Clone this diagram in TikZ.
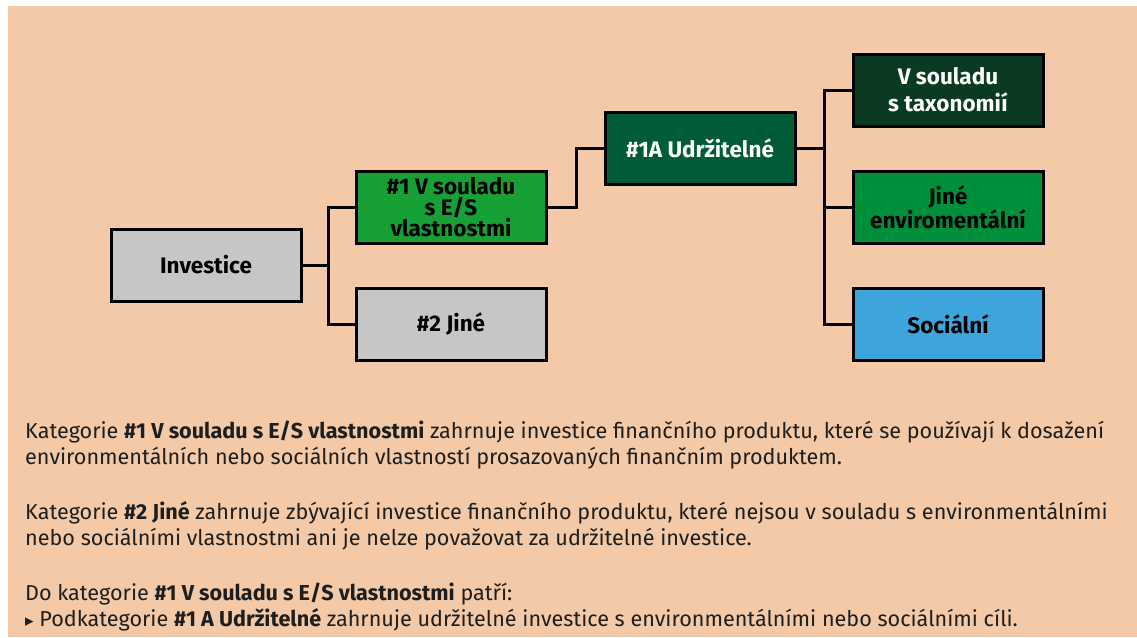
\documentclass[tikz,border=0pt]{standalone}
\usepackage{fontspec}
\setmainfont{Fira Sans}
\newfontfamily\symfont{DejaVu Sans}

\definecolor{peach}{RGB}{243,201,167}
\definecolor{boxgray}{RGB}{198,198,198}
\definecolor{esgreen}{RGB}{23,160,53}
\definecolor{udrgreen}{RGB}{0,92,56}
\definecolor{taxgreen}{RGB}{11,58,34}
\definecolor{envgreen}{RGB}{0,143,58}
\definecolor{socblue}{RGB}{61,165,220}
\definecolor{bodytext}{RGB}{30,30,30}

\tikzset{
  catbox/.style={draw=black, line width=3pt, minimum width=190pt, minimum height=72pt,
    inner sep=0pt, align=center, font=\bfseries\fontsize{22.5}{21}\selectfont},
  link/.style={line width=3pt},
  bodyline/.style={anchor=base west, inner sep=0pt, text=bodytext,
    font=\fontsize{21.6}{26}\selectfont}
}

\begin{document}
\begin{tikzpicture}[x=1pt,y=-1pt]
\useasboundingbox (0,0) rectangle (1137,637);
\fill[peach] (8,6) rectangle (1137,637);

% the boxes
\node[catbox, fill=boxgray] (inv) at (206,265) {Investice};
\node[catbox, fill=esgreen] (es) at (451,207) {\#1 V souladu\\s E/S\\vlastnostmi};
\node[catbox, fill=boxgray] (other) at (451,324) {\#2 Jiné};
\node[catbox, fill=udrgreen, text=white] (udr) at (700,148) {\#1A Udržitelné};
\node[catbox, fill=taxgreen, text=white] (tax) at (948,90) {V souladu\\[6pt]s taxonomií};
\node[catbox, fill=envgreen] (env) at (948,207) {Jiné\\enviromentální};
\node[catbox, fill=socblue] (soc) at (948,324) {Sociální};

% connectors
\coordinate (j1) at (328,265);
\coordinate (j3) at (824,148);
\draw[link] (inv.east) -- (j1) |- (es.west);
\draw[link] (j1) |- (other.west);
\draw[link] (es.east) -- ++(29,0) |- (udr.west);
\draw[link] (udr.east) -- (j3) |- (tax.west);
\draw[link] (j3) |- (env.west);
\draw[link] (j3) |- (soc.west);

% text below
\node[bodyline] (t1) at (25,438) {Kategorie \textbf{\#1 V souladu s E/S vlastnostmi} zahrnuje investice finančního produktu, které se používají k dosažení};
\node[bodyline] (t2) at (25,464) {environmentálních nebo sociálních vlastností prosazovaných finančním produktem.};
\node[bodyline] (t3) at (25,519) {Kategorie \textbf{\#2 Jiné} zahrnuje zbývající investice finančního produktu, které nejsou v souladu s environmentálními};
\node[bodyline] (t4) at (25,545) {nebo sociálními vlastnostmi ani je nelze považovat za udržitelné investice.};
\node[bodyline] (t5) at (25,600) {Do kategorie \textbf{\#1 V souladu s E/S vlastnostmi} patří:};
\node[bodyline] (t6) at (25,626) {{\symfont\fontsize{17}{17}\selectfont ▸} Podkategorie \textbf{\#1 A Udržitelné} zahrnuje udržitelné investice s environmentálními nebo sociálními cíli.};
\end{tikzpicture}
\end{document}
